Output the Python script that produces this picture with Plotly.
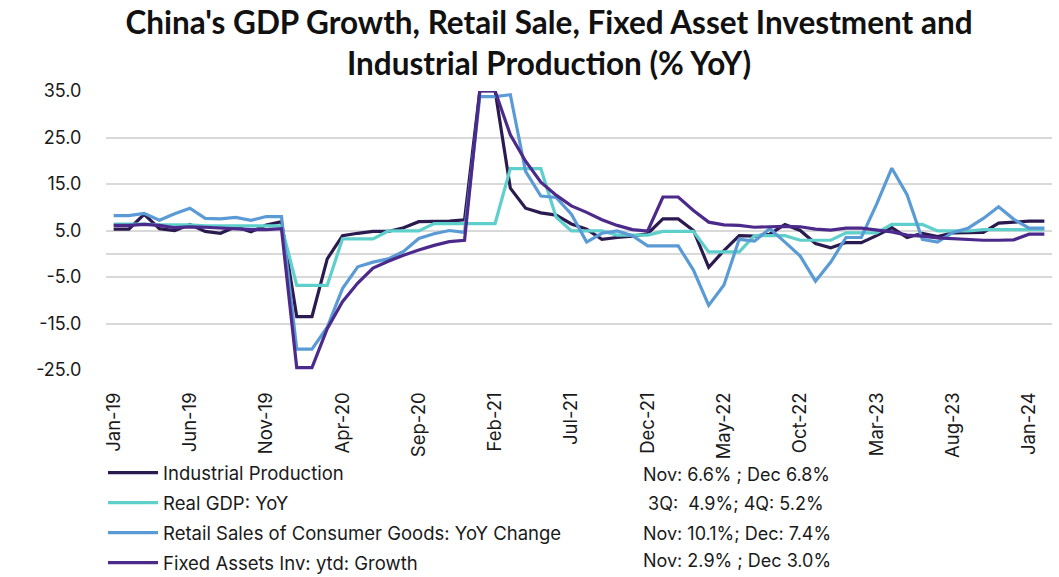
import pandas as pd
import plotly.graph_objects as go

months = list(pd.date_range("2019-01-01", periods=62, freq="MS").strftime("%b-%y"))

industrial_production = [
    5.3, 5.3, 8.5, 5.4, 5.0, 6.3, 4.8, 4.4, 5.8, 4.7, 6.2, 6.9,
    -13.5, -13.5, -1.1, 3.9, 4.4, 4.8, 4.8, 5.6, 6.9, 6.9, 7.0, 7.3,
    35.1, 35.1, 14.1, 9.8, 8.8, 8.3, 6.4, 5.3, 3.1, 3.5, 3.8, 4.3,
    7.5, 7.5, 5.0, -2.9, 0.7, 3.9, 3.8, 4.2, 6.3, 5.0, 2.2, 1.3,
    2.4, 2.4, 3.9, 5.6, 3.5, 4.4, 3.7, 4.5, 4.5, 4.6, 6.6, 6.8,
    7.0, 7.0,
]

real_gdp = [
    6.4, 6.4, 6.4, 6.2, 6.2, 6.2, 6.0, 6.0, 6.0, 6.0, 6.0, 6.0,
    -6.8, -6.8, -6.8, 3.2, 3.2, 3.2, 4.9, 4.9, 4.9, 6.5, 6.5, 6.5,
    6.5, 6.5, 18.3, 18.3, 18.3, 7.9, 4.9, 4.9, 4.9, 4.0, 4.0, 4.0,
    4.8, 4.8, 4.8, 0.4, 0.4, 0.4, 3.9, 3.9, 3.9, 2.9, 2.9, 2.9,
    4.5, 4.5, 4.5, 6.3, 6.3, 6.3, 4.9, 4.9, 4.9, 5.2, 5.2, 5.2,
    5.2, 5.2,
]

retail_sales = [
    8.2, 8.2, 8.7, 7.2, 8.6, 9.8, 7.6, 7.5, 7.8, 7.2, 8.0, 8.0,
    -20.5, -20.5, -15.8, -7.5, -2.8, -1.8, -1.1, 0.5, 3.3, 4.3, 5.0, 4.6,
    33.8, 33.8, 34.2, 17.7, 12.4, 12.1, 8.5, 2.5, 4.4, 4.9, 3.9, 1.7,
    1.7, 1.7, -3.5, -11.1, -6.7, 3.1, 2.7, 5.4, 2.5, -0.5, -5.9, -1.8,
    3.5, 3.5, 10.6, 18.4, 12.7, 3.1, 2.5, 4.6, 5.5, 7.6, 10.1, 7.4,
    5.5, 5.5,
]

fixed_asset_inv = [
    6.1, 6.1, 6.3, 6.1, 5.6, 5.8, 5.7, 5.5, 5.4, 5.2, 5.2, 5.4,
    -24.5, -24.5, -16.1, -10.3, -6.3, -3.1, -1.6, -0.3, 0.8, 1.8, 2.6, 2.9,
    35.0, 35.0, 25.6, 19.9, 15.4, 12.6, 10.3, 8.9, 7.3, 6.1, 5.2, 4.9,
    12.2, 12.2, 9.3, 6.8, 6.2, 6.1, 5.7, 5.8, 5.9, 5.8, 5.3, 5.1,
    5.5, 5.5, 5.1, 4.7, 4.0, 3.8, 3.4, 3.2, 3.1, 2.9, 2.9, 3.0,
    4.2, 4.2,
]

series_names = [
    "Industrial Production",
    "Real GDP: YoY",
    "Retail Sales of Consumer Goods: YoY Change",
    "Fixed Assets Inv: ytd: Growth",
]
series_colors = ["#2B1A4F", "#5FCFCB", "#5B9BD5", "#4B2A8C"]
series_values = [industrial_production, real_gdp, retail_sales, fixed_asset_inv]

latest_notes = [
    "Nov: 6.6% ; Dec 6.8%",
    "\u00a03Q:\u00a0\u00a04.9%; 4Q: 5.2%",
    "Nov: 10.1%; Dec: 7.4%",
    "Nov: 2.9% ; Dec 3.0%",
]

y_ticks = [-25, -15, -5, 5, 15, 25, 35]
x_ticks = months[::5]

W, H = 1059, 577
ML, MR, MT, MB = 106, 7, 91, 207
PW, PH = W - ML - MR, H - MT - MB
FONT = "Inter"
TXT = "#1a1a1a"


def px_x(px):
    return (px - ML) / PW


def px_y(py):
    return (H - MB - py) / PH


fig = go.Figure()
for i, (name, vals, col) in enumerate(zip(series_names, series_values, series_colors)):
    fig.add_trace(go.Scatter(
        x=months, y=vals, name=name, mode="lines",
        line=dict(color=col, width=3.2),
        legendgroup=f"g{i}",
    ))

fig.update_layout(
    width=W, height=H,
    paper_bgcolor="white", plot_bgcolor="white",
    margin=dict(l=ML, r=MR, t=MT, b=MB, autoexpand=False),
    title=dict(
        text="China's GDP Growth, Retail Sale, Fixed Asset Investment and<br>Industrial Production (% YoY)",
        x=549 / W, xanchor="center", xref="container",
        y=1 - 34 / H, yanchor="top", yref="container",
        font=dict(family="Lato", size=31.5, color="#111111", weight="bold"),
    ),
    showlegend=True,
    legend=dict(
        x=px_x(103), xanchor="left",
        y=px_y(454), yanchor="top",
        font=dict(family=FONT, size=18.5, color=TXT),
        itemwidth=50,
        tracegroupgap=3,
        bgcolor="rgba(0,0,0,0)",
    ),
    font=dict(family=FONT, color=TXT),
)

fig.update_xaxes(
    type="category", automargin=False,
    range=[-0.5, len(months) - 0.5],
    tickmode="array", tickvals=x_ticks, ticktext=x_ticks,
    tickangle=-90,
    tickfont=dict(family=FONT, size=18.5, color=TXT),
    showgrid=False, zeroline=False, showline=False,
    ticks="outside", ticklen=14, tickcolor="rgba(0,0,0,0)",
)
fig.update_yaxes(
    automargin=False,
    range=[-25, 35],
    tickmode="array", tickvals=y_ticks, ticktext=[f"{v:.1f}" for v in y_ticks],
    tickfont=dict(family=FONT, size=18, color=TXT),
    showgrid=True, gridcolor="#D9D9D9", gridwidth=1.5,
    zeroline=True, zerolinecolor="#D9D9D9", zerolinewidth=1.5,
    showline=False,
    ticks="outside", ticklen=20, tickcolor="rgba(0,0,0,0)",
)

for note, yc in zip(latest_notes, [474, 503, 533, 560]):
    fig.add_annotation(
        text=note, xref="paper", yref="paper",
        x=px_x(641), y=px_y(yc), xanchor="left", yanchor="middle",
        showarrow=False, font=dict(family=FONT, size=18, color=TXT),
    )

fig.write_html(
    "out.html",
    config={"displayModeBar": False},
    post_script="document.body.style.margin='0';document.body.style.overflow='hidden';",
)
